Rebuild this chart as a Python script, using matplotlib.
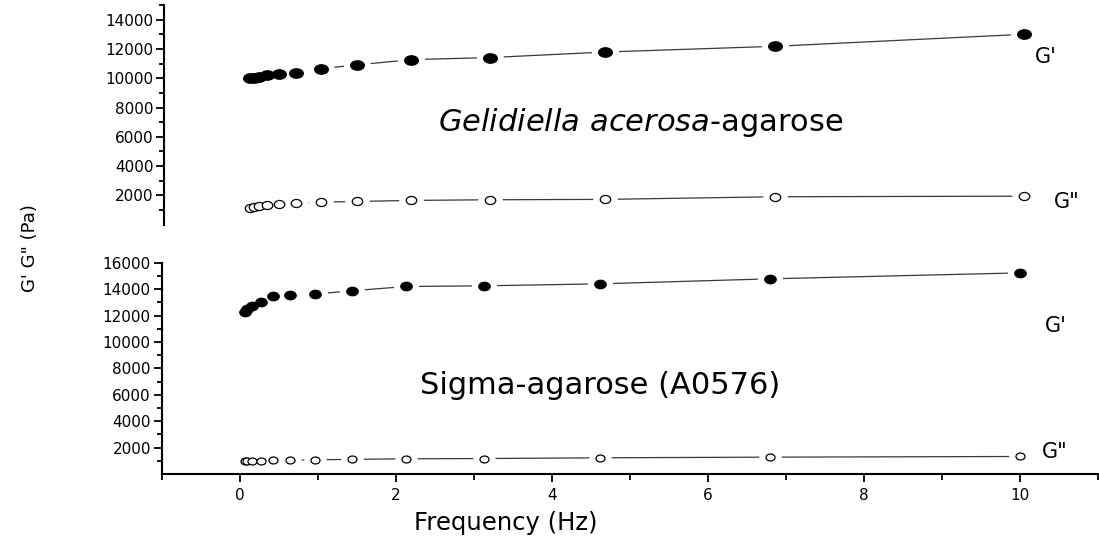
import matplotlib
matplotlib.use('Agg')
import matplotlib.pyplot as plt
from matplotlib.markers import MarkerStyle
from matplotlib.transforms import Affine2D

# Gelidiella acerosa-agarose
freq_gel = [0.1, 0.147, 0.215, 0.316, 0.464, 0.681, 1.0, 1.468, 2.154, 3.162, 4.642, 6.813, 10.0]
gp_gel = [10000, 10045, 10090, 10205, 10275, 10390, 10660, 10910, 11270, 11410, 11790, 12180, 13000]
gpp_gel = [1160, 1230, 1270, 1340, 1405, 1450, 1540, 1590, 1660, 1705, 1730, 1910, 1950]

# Sigma-agarose (A0576)
freq_sig = [0.06, 0.09, 0.16, 0.27, 0.42, 0.64, 0.96, 1.43, 2.13, 3.13, 4.62, 6.80, 10.0]
gp_sig = [12260, 12490, 12740, 13060, 13510, 13570, 13620, 13870, 14200, 14250, 14400, 14780, 15230]
gpp_sig = [990, 1000, 1010, 1015, 1030, 1045, 1070, 1100, 1145, 1165, 1220, 1270, 1320]

cor_linha = '#3a3a3a'
fs_ticks = 11

# marcadores elípticos (achatados na vertical)
def elipse(sx):
    return MarkerStyle('o', transform=Affine2D().scale(sx, 1.0))


def serie(ax, x, y, ms, sx, cheio):
    ax.plot(x, y, '-', color=cor_linha, lw=0.9, zorder=2)
    # fundo branco para abrir o espaço da linha em volta dos pontos
    ax.plot(x, y, linestyle='none', marker=elipse(1.9), ms=ms + 3,
            mfc='white', mec='white', zorder=3)
    ax.plot(x, y, linestyle='none', marker=elipse(sx), ms=ms,
            mfc='black' if cheio else 'white', mec='black', mew=0.9, zorder=4)


def eixo_y(ax, ymax):
    ax.set_xlim(-1, 11)
    ax.set_ylim(0, ymax)
    ax.set_yticks(range(2000, ymax + 1, 2000))
    ax.set_yticks(range(1000, ymax + 1, 2000), minor=True)
    ax.spines['top'].set_visible(False)
    ax.spines['right'].set_visible(False)
    ax.spines['left'].set_linewidth(1.5)
    ax.tick_params(axis='y', which='major', direction='out', length=6, width=1.3,
                   labelsize=fs_ticks, pad=2)
    ax.tick_params(axis='y', which='minor', direction='out', length=3.5, width=1.3)


fig = plt.figure(figsize=(10.99, 5.48), dpi=100)

ax_a = fig.add_axes([0.1496, 0.5899, 0.8533, 0.4010])
ax_b = fig.add_axes([0.1474, 0.1352, 0.8517, 0.3854])

# painel superior
serie(ax_a, freq_gel, gp_gel, 6.8, 1.45, True)
serie(ax_a, freq_gel, gpp_gel, 5.8, 1.3, False)
eixo_y(ax_a, 15000)
ax_a.spines['bottom'].set_visible(False)
ax_a.set_xticks([])
ax_a.text(5.1, 6945, r'$\it{Gelidiella\ acerosa}$-agarose', fontsize=22,
          ha='center', va='center')
ax_a.text(10.28, 11450, "G'", fontsize=15, ha='center', va='center')
ax_a.text(10.55, 1553, 'G"', fontsize=15, ha='center', va='center')

# painel inferior
serie(ax_b, freq_sig, gp_sig, 6.1, 1.35, True)
serie(ax_b, freq_sig, gpp_sig, 5.0, 1.3, False)
eixo_y(ax_b, 16000)
ax_b.spines['bottom'].set_linewidth(1.5)
ax_b.set_xticks(range(0, 11, 2))
ax_b.set_xticks(range(-1, 12, 2), minor=True)
ax_b.tick_params(axis='x', which='major', direction='out', length=6, width=1.3,
                 labelsize=fs_ticks, pad=4)
ax_b.tick_params(axis='x', which='minor', direction='out', length=4, width=1.3)
ax_b.text(4.62, 6735, 'Sigma-agarose (A0576)', fontsize=22,
          ha='center', va='center')
ax_b.text(10.46, 11205, "G'", fontsize=15, ha='center', va='center')
ax_b.text(10.44, 1660, 'G"', fontsize=15, ha='center', va='center')

fig.text(506 / 1099, 1 - 523 / 548, 'Frequency (Hz)', fontsize=17.5,
         ha='center', va='center')
fig.text(30 / 1099, 1 - 248 / 548, 'G\' G" (Pa)', fontsize=13,
         rotation=90, ha='center', va='center')

fig.savefig('out.png', dpi=100, facecolor='white')
